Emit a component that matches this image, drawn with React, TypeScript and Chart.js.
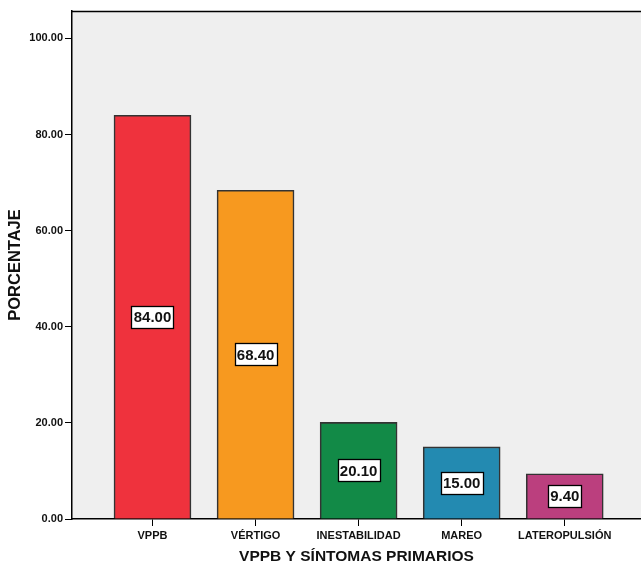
import React, { useEffect, useRef } from "react";
import { Chart, registerables } from "chart.js";

Chart.register(...registerables);

const CATEGORIES = ["VPPB", "VÉRTIGO", "INESTABILIDAD", "MAREO", "LATEROPULSIÓN"];
const VALUES = [84.0, 68.4, 20.1, 15.0, 9.4];
const BAR_COLORS = ["#ef323d", "#f7991f", "#128a47", "#238ab1", "#bb3f7e"];
const Y_TICKS = [0, 20, 40, 60, 80, 100];
const X_TITLE = "VPPB Y SÍNTOMAS PRIMARIOS";
const Y_TITLE = "PORCENTAJE";

const FONT = "'Liberation Sans', Arial, sans-serif";

const bgPlugin = {
  id: "bgPlugin",
  beforeDraw(chart: any) {
    const { ctx, chartArea } = chart;
    ctx.save();
    ctx.fillStyle = "#efefef";
    ctx.fillRect(chartArea.left, chartArea.top, chartArea.right - chartArea.left, chartArea.bottom - chartArea.top);
    ctx.strokeStyle = "#000";
    ctx.lineWidth = 1.5;
    ctx.beginPath();
    ctx.moveTo(chartArea.left, chartArea.top + 0.5);
    ctx.lineTo(chartArea.right, chartArea.top + 0.5);
    ctx.stroke();
    ctx.restore();
  },
};

const labelPlugin = {
  id: "labelPlugin",
  afterDatasetsDraw(chart: any) {
    const { ctx } = chart;
    const meta = chart.getDatasetMeta(0);
    ctx.save();
    ctx.font = `bold 15px ${FONT}`;
    ctx.textAlign = "center";
    ctx.textBaseline = "middle";
    meta.data.forEach((bar: any, i: number) => {
      const text = VALUES[i].toFixed(2);
      const cx = bar.x;
      const cy = (bar.y + bar.base) / 2;
      const w = Math.round(ctx.measureText(text).width + 4);
      const h = 22;
      const x0 = Math.round(cx - w / 2) + 0.5;
      const y0 = Math.round(cy - h / 2) + 0.5;
      ctx.fillStyle = "#fff";
      ctx.fillRect(x0, y0, w, h);
      ctx.strokeStyle = "#000";
      ctx.lineWidth = 1.3;
      ctx.strokeRect(x0, y0, w, h);
      ctx.fillStyle = "#111";
      ctx.fillText(text, cx, cy + 1);
    });
    ctx.restore();
  },
};

export default function App() {
  const ref = useRef<HTMLCanvasElement | null>(null);

  useEffect(() => {
    if (!ref.current) return;
    const chart = new Chart(ref.current, {
      type: "bar",
      data: {
        datasets: [
          {
            data: VALUES.map((v, i) => ({ x: i, y: v })),
            backgroundColor: BAR_COLORS,
            borderColor: "#333",
            borderWidth: 1.6,
            barThickness: 77,
          },
        ],
      },
      options: {
        animation: false,
        responsive: false,
        maintainAspectRatio: false,
        layout: { padding: { top: 11, right: 0, bottom: 0, left: 0 } },
        plugins: {
          legend: { display: false },
          tooltip: { enabled: false },
        },
        scales: {
          x: {
            type: "linear",
            offset: false,
            min: -0.781,
            max: 4.74,
            afterBuildTicks: (scale: any) => {
              scale.ticks = CATEGORIES.map((_, i) => ({ value: i }));
            },
            afterFit: (scale: any) => {
              scale.height = 48;
            },
            ticks: {
              autoSkip: false,
              maxRotation: 0,
              padding: 3,
              color: "#111",
              font: { family: FONT, size: 11, weight: "bold" },
              callback: (v: any) => CATEGORIES[Math.round(Number(v))] ?? "",
            },
            grid: {
              display: true,
              offset: false,
              drawOnChartArea: false,
              drawTicks: true,
              tickLength: 7,
              color: "#000",
            },
            border: { display: true, color: "#000", width: 1.5 },
            title: {
              display: true,
              text: X_TITLE,
              color: "#111",
              font: { family: FONT, size: 15.5, weight: "bold" },
              padding: { top: 0, bottom: 1 },
            },
          },
          y: {
            min: 0,
            max: 105.7,
            afterBuildTicks: (scale: any) => {
              scale.ticks = Y_TICKS.map((v) => ({ value: v }));
            },
            afterFit: (scale: any) => {
              scale.width = 72;
            },
            ticks: {
              padding: 2,
              color: "#111",
              font: { family: FONT, size: 11, weight: "bold" },
              callback: (v: any) => Number(v).toFixed(2),
            },
            grid: {
              display: true,
              drawOnChartArea: false,
              drawTicks: true,
              tickLength: 7,
              color: "#000",
            },
            border: { display: true, color: "#000", width: 1.5 },
            title: {
              display: true,
              text: Y_TITLE,
              color: "#111",
              font: { family: FONT, size: 16.5, weight: "bold" },
              padding: { top: 6, bottom: 0 },
            },
          },
        },
      } as any,
      plugins: [bgPlugin, labelPlugin],
    });
    return () => chart.destroy();
  }, []);

  return (
    <div style={{ position: "fixed", left: 0, top: 0, width: 641, height: 567, background: "#fff" }}>
      <canvas ref={ref} width={641} height={567} style={{ display: "block" }} />
    </div>
  );
}
